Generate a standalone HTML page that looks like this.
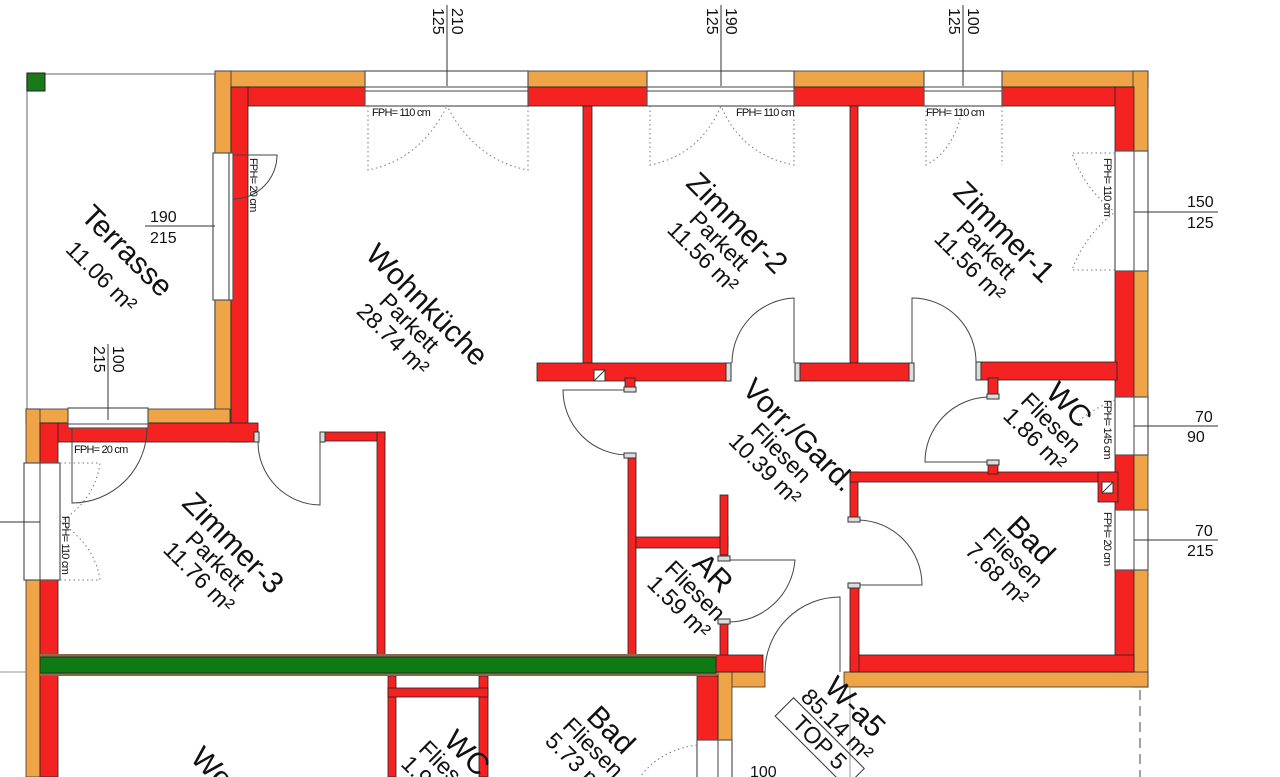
<!DOCTYPE html>
<html><head><meta charset="utf-8"><style>
html,body{margin:0;padding:0;background:#fff;overflow:hidden;width:1280px;height:777px}
svg{display:block}
text{font-family:"Liberation Sans",sans-serif;fill:#111}
.r{fill:#f52222;stroke:#222;stroke-width:0.8}
.o{fill:#f0a448;stroke:#333;stroke-width:0.8}
.w{fill:#fff;stroke:#555;stroke-width:1.2}
.d{fill:none;stroke:#777;stroke-width:1;stroke-dasharray:1.5 3}
.a{fill:none;stroke:#444;stroke-width:1}
.j{fill:#ddd;stroke:#333;stroke-width:1}
.n{font-size:30px}
.s{font-size:23px}
.f{font-size:11px;letter-spacing:-0.8px}
.m{font-size:16px}
</style></head><body>
<svg width="1280" height="777" viewBox="0 0 1280 777" xmlns="http://www.w3.org/2000/svg">
<rect x="27" y="74" width="188" height="336" fill="none" stroke="#999" stroke-width="1.5"/>
<rect x="27" y="73" width="18" height="18" fill="#1a7a1a" stroke="#222"/>
<rect class="o" x="215" y="71" width="933" height="16"/>
<rect class="o" x="1133" y="71" width="15" height="616"/>
<rect class="o" x="215" y="71" width="16" height="352"/>
<rect class="o" x="26" y="409" width="204" height="14"/>
<rect class="o" x="26" y="409" width="14" height="368"/>
<rect class="o" x="844" y="672" width="304" height="15"/>
<rect class="o" x="716" y="672" width="49" height="15"/>
<rect class="o" x="718" y="672" width="14" height="105"/>
<rect class="r" x="231" y="87" width="902" height="19"/>
<rect class="r" x="1115" y="87" width="19" height="585"/>
<rect class="r" x="231" y="87" width="17" height="355"/>
<rect class="r" x="40" y="423" width="218" height="19"/>
<rect class="r" x="40" y="423" width="18" height="354"/>
<rect class="r" x="850" y="655" width="284" height="17"/>
<rect class="r" x="850" y="472" width="8" height="48"/>
<rect class="r" x="850" y="585" width="9" height="87"/>
<rect class="r" x="850" y="472" width="265" height="10"/>
<rect class="r" x="1098" y="472" width="20" height="30"/>
<rect class="r" x="583" y="106" width="9" height="257"/>
<rect class="r" x="850" y="106" width="8" height="257"/>
<rect class="r" x="537" y="363" width="193" height="18"/>
<rect class="r" x="796" y="363" width="116" height="18"/>
<rect class="r" x="977" y="362" width="140" height="18"/>
<rect class="r" x="988" y="378" width="10" height="19"/>
<rect class="r" x="988" y="462" width="10" height="12"/>
<rect class="r" x="625" y="378" width="10" height="12"/>
<rect class="r" x="628" y="455" width="8" height="200"/>
<rect class="r" x="636" y="537" width="92" height="11"/>
<rect class="r" x="720" y="495" width="8" height="60"/>
<rect class="r" x="720" y="620" width="8" height="36"/>
<rect class="r" x="320" y="432" width="65" height="9"/>
<rect class="r" x="377" y="432" width="8" height="223"/>
<rect class="r" x="716" y="655" width="47" height="17"/>
<rect class="r" x="697" y="676" width="21" height="64"/>
<rect class="r" x="388" y="676" width="8" height="101"/>
<rect class="r" x="479" y="676" width="9" height="101"/>
<rect class="r" x="388" y="688" width="100" height="9"/>
<rect x="40" y="654" width="676" height="22" fill="#8a6a4a"/>
<rect x="40" y="657" width="676" height="16" fill="#0d7a14" stroke="#222" stroke-width="0.8"/>
<rect x="594" y="370" width="11" height="11" fill="#fff" stroke="#333"/><line x1="594" y1="381" x2="605" y2="370" stroke="#333"/>
<rect x="1102" y="482" width="11" height="11" fill="#fff" stroke="#333"/><line x1="1102" y1="493" x2="1113" y2="482" stroke="#333"/>
<rect class="w" x="365" y="71" width="163" height="35"/><line x1="365" y1="87" x2="528" y2="87" stroke="#444"/><line x1="365" y1="91" x2="528" y2="91" stroke="#444"/>
<rect class="w" x="647" y="71" width="147" height="35"/><line x1="647" y1="87" x2="794" y2="87" stroke="#444"/><line x1="647" y1="91" x2="794" y2="91" stroke="#444"/>
<rect class="w" x="924" y="71" width="78" height="35"/><line x1="924" y1="87" x2="1002" y2="87" stroke="#444"/><line x1="924" y1="91" x2="1002" y2="91" stroke="#444"/>
<rect class="w" x="213" y="153" width="20" height="147"/><rect class="w" x="229" y="153" width="4" height="147"/>
<rect class="w" x="1115" y="151" width="33" height="120"/><line x1="1134" y1="151" x2="1134" y2="271" stroke="#444"/>
<rect class="w" x="1115" y="397" width="33" height="58"/><line x1="1134" y1="397" x2="1134" y2="455" stroke="#444"/>
<rect class="w" x="1115" y="510" width="33" height="60"/><line x1="1134" y1="510" x2="1134" y2="570" stroke="#444"/>
<rect class="w" x="68" y="408" width="80" height="20"/><line x1="68" y1="424" x2="148" y2="424" stroke="#444"/>
<rect class="w" x="24" y="463" width="36" height="117"/><line x1="40" y1="463" x2="40" y2="580" stroke="#444"/>
<rect class="w" x="697" y="740" width="35" height="40"/><line x1="718" y1="740" x2="718" y2="777" stroke="#444"/>
<path class="d" d="M368 106 V170 Q420 160 447 106 M528 106 V170 Q475 160 447 106"/>
<path class="d" d="M650 106 V165 Q700 155 721 106 M794 106 V165 Q742 155 721 106"/>
<path class="d" d="M926 106 V165 Q955 150 963 106 M1002 106 V165"/>
<path class="d" d="M1115 153 H1072 Q1085 190 1115 212 M1115 270 H1072 Q1085 235 1115 212"/>
<path class="d" d="M60 463 H100 Q95 500 60 522 M60 580 H100 Q95 545 60 522"/>
<path class="d" d="M1115 400 Q1090 410 1078 422"/>
<path class="d" d="M697 745 Q660 750 640 777"/>
<path class="a" d="M233 155 H277 A44 44 0 0 1 233 199"/>
<path class="a" d="M72 428 V503 A75 75 0 0 0 147 428"/>
<path class="a" d="M258 442 A63 63 0 0 0 320 505 V432"/>
<path class="a" d="M794 363 V298 A65 65 0 0 0 732 363"/>
<path class="a" d="M912 363 V298 A64 64 0 0 1 976 363"/>
<path class="a" d="M628 455 A65 65 0 0 1 563 390 H625"/>
<path class="a" d="M988 397 A65 65 0 0 0 925 462 H988"/>
<path class="a" d="M858 520 A65 65 0 0 1 922 585 H858"/>
<path class="a" d="M728 560 H795 A67 67 0 0 1 728 622"/>
<path class="a" d="M765 672 A75 75 0 0 1 840 597 V672"/>
<line x1="850" y1="687" x2="850" y2="777" stroke="#999"/>
<line x1="1140" y1="690" x2="1140" y2="777" stroke="#444" stroke-dasharray="10 6"/>
<line x1="0" y1="672" x2="26" y2="672" stroke="#999"/>
<rect class="j" x="254" y="432" width="5" height="10"/><rect class="j" x="320" y="432" width="5" height="10"/>
<rect class="j" x="726" y="363" width="5" height="18"/><rect class="j" x="795" y="363" width="5" height="18"/>
<rect class="j" x="909" y="363" width="5" height="18"/><rect class="j" x="976" y="362" width="5" height="18"/>
<rect class="j" x="624" y="387" width="12" height="5"/><rect class="j" x="624" y="453" width="12" height="5"/>
<rect class="j" x="987" y="394" width="12" height="5"/><rect class="j" x="987" y="460" width="12" height="5"/>
<rect class="j" x="848" y="517" width="12" height="5"/><rect class="j" x="848" y="583" width="12" height="5"/>
<rect class="j" x="718" y="556" width="12" height="5"/><rect class="j" x="718" y="619" width="12" height="5"/>
<g stroke="#333" stroke-width="1">
<line x1="447" y1="5" x2="447" y2="86"/><line x1="721" y1="5" x2="721" y2="86"/><line x1="963" y1="5" x2="963" y2="86"/>
<line x1="1134" y1="212" x2="1218" y2="212"/><line x1="1134" y1="426" x2="1218" y2="426"/><line x1="1134" y1="540" x2="1218" y2="540"/>
<line x1="145" y1="226" x2="215" y2="226"/><line x1="108" y1="344" x2="108" y2="420"/><line x1="0" y1="522" x2="40" y2="522"/>
</g>
<g class="m">
<text class="m" transform="translate(452,8) rotate(90)">210</text><text class="m" transform="translate(433,8) rotate(90)">125</text>
<text class="m" transform="translate(726,8) rotate(90)">190</text><text class="m" transform="translate(707,8) rotate(90)">125</text>
<text class="m" transform="translate(968,8) rotate(90)">100</text><text class="m" transform="translate(949,8) rotate(90)">125</text>
<text class="m" transform="translate(113,346) rotate(90)">100</text><text class="m" transform="translate(94,346) rotate(90)">215</text>
<text class="m" x="1187" y="207">150</text><text class="m" x="1187" y="228">125</text>
<text class="m" x="1195" y="422">70</text><text class="m" x="1187" y="442">90</text>
<text class="m" x="1195" y="536">70</text><text class="m" x="1187" y="556">215</text>
<text class="m" x="150" y="222">190</text><text class="m" x="150" y="243">215</text>
<text class="m" x="750" y="777">100</text>
</g>
<g class="f">
<text class="f" x="372" y="116">FPH= 110 cm</text>
<text class="f" x="736" y="116">FPH= 110 cm</text>
<text class="f" x="926" y="116">FPH= 110 cm</text>
<text class="f" x="74" y="453">FPH= 20 cm</text>
<text class="f" transform="translate(250,158) rotate(90)">FPH= 20 cm</text>
<text class="f" transform="translate(1104,158) rotate(90)">FPH= 110 cm</text>
<text class="f" transform="translate(1104,400) rotate(90)">FPH= 145 cm</text>
<text class="f" transform="translate(1104,512) rotate(90)">FPH= 20 cm</text>
<text class="f" transform="translate(62,516) rotate(90)">FPH= 110 cm</text>
</g>
<g transform="translate(120,258) rotate(45)" text-anchor="middle"><text class="n" y="0">Terrasse</text><text class="s" y="34">11.06 m²</text></g>
<g transform="translate(420,312) rotate(45)" text-anchor="middle"><text class="n" y="0">Wohnküche</text><text class="s" y="23">Parkett</text><text class="s" y="46">28.74 m²</text></g>
<g transform="translate(730,230) rotate(45)" text-anchor="middle"><text class="n" y="0">Zimmer-2</text><text class="s" y="23">Parkett</text><text class="s" y="46">11.56 m²</text></g>
<g transform="translate(997,239) rotate(45)" text-anchor="middle"><text class="n" y="0">Zimmer-1</text><text class="s" y="23">Parkett</text><text class="s" y="46">11.56 m²</text></g>
<g transform="translate(226,550) rotate(45)" text-anchor="middle"><text class="n" y="0">Zimmer-3</text><text class="s" y="23">Parkett</text><text class="s" y="46">11.76 m²</text></g>
<g transform="translate(792,442) rotate(45)" text-anchor="middle"><text class="n" y="0">Vorr./Gard.</text><text class="s" y="23">Fliesen</text><text class="s" y="46">10.39 m²</text></g>
<g transform="translate(1062,412) rotate(45)" text-anchor="middle"><text class="n" y="0">WC</text><text class="s" y="23">Fliesen</text><text class="s" y="46">1.86 m²</text></g>
<g transform="translate(1024,547) rotate(45)" text-anchor="middle"><text class="n" y="0">Bad</text><text class="s" y="23">Fliesen</text><text class="s" y="46">7.68 m²</text></g>
<g transform="translate(706,580) rotate(45)" text-anchor="middle"><text class="n" y="0">AR</text><text class="s" y="23">Fliesen</text><text class="s" y="46">1.59 m²</text></g>
<g transform="translate(848,714) rotate(45)" text-anchor="middle"><text class="n" y="0">W-a5</text><text class="s" y="23">85.14 m²</text><rect x="-50" y="27" width="100" height="26" fill="none" stroke="#333"/><text class="s" y="48">TOP 5</text></g>
<g transform="translate(460,760) rotate(45)" text-anchor="middle"><text class="n" y="0">WC</text><text class="s" y="23">Fliesen</text><text class="s" y="46">1.91 m²</text></g>
<g transform="translate(604,737) rotate(45)" text-anchor="middle"><text class="n" y="0">Bad</text><text class="s" y="23">Fliesen</text><text class="s" y="46">5.73 m²</text></g>
<g transform="translate(245,815) rotate(45)" text-anchor="middle"><text class="n" y="0">Wohnküche</text></g>
<g transform="translate(0,800) rotate(45)" text-anchor="middle"><text class="n" y="0">Terrasse</text></g>
</svg>
</body></html>
